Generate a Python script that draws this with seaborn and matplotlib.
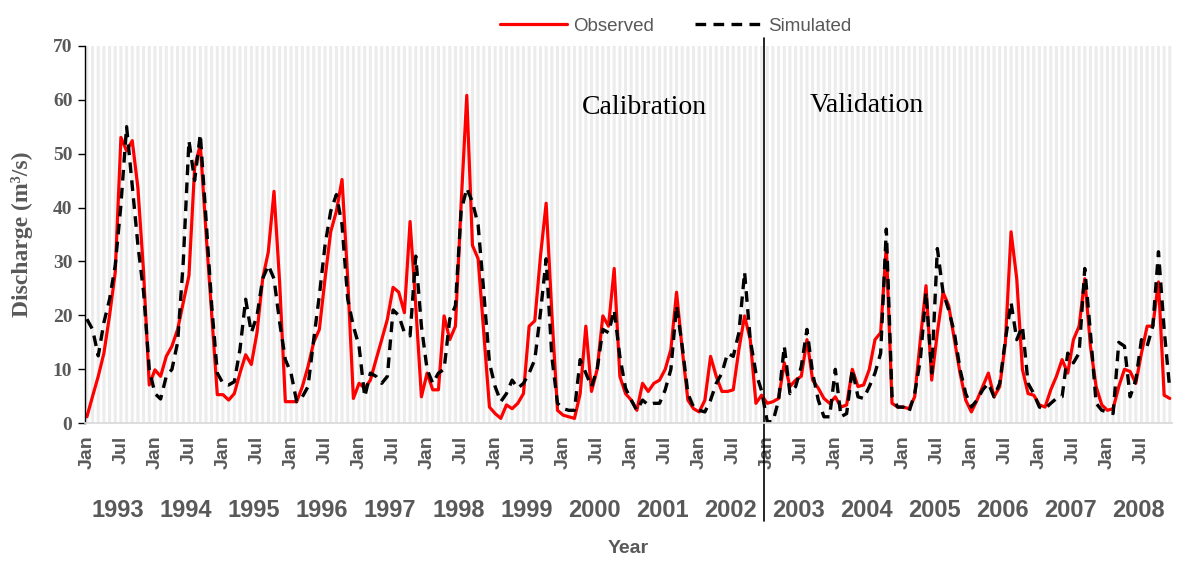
import numpy as np
import pandas as pd
import matplotlib
matplotlib.use("Agg")
import matplotlib.pyplot as plt
import matplotlib.transforms as mtransforms
import seaborn as sns

# monthly discharge, Jan 1993 - Dec 2008 (m3/s), one row per year
years = list(range(1993, 2009))
tick_months = ["Jan", "Jul"]

observed = [
    1.2, 5.0, 8.7, 13.0, 20.0, 28.0, 53.0, 50.5, 52.4, 43.6, 28.0, 7.1,
    9.9, 8.7, 12.4, 14.3, 17.4, 22.4, 27.4, 47.4, 51.7, 35.5, 20.5, 5.3,
    5.3, 4.3, 5.5, 9.3, 12.7, 10.9, 16.8, 26.8, 31.8, 43.0, 26.0, 4.0,
    4.0, 4.0, 6.8, 10.5, 15.0, 17.4, 26.8, 35.5, 39.3, 45.2, 26.8, 4.6,
    7.4, 6.5, 8.0, 11.8, 15.5, 19.3, 25.2, 24.3, 20.5, 37.4, 21.8, 4.9,
    9.3, 6.2, 6.2, 19.9, 15.5, 18.0, 40.5, 60.8, 33.0, 30.5, 16.8, 3.0,
    1.8, 0.9, 3.4, 2.7, 3.7, 5.5, 18.0, 19.0, 31.0, 40.8, 20.5, 2.4,
    1.5, 1.2, 0.9, 5.5, 18.0, 5.9, 10.0, 19.9, 18.0, 28.7, 8.7, 5.5,
    4.3, 2.4, 7.4, 5.9, 7.4, 8.0, 10.0, 13.7, 24.3, 13.7, 4.3, 2.7,
    2.1, 4.3, 12.4, 8.7, 5.9, 5.9, 6.2, 13.7, 19.9, 15.5, 3.7, 5.2,
    3.7, 4.0, 4.6, 11.2, 6.8, 8.0, 8.7, 15.5, 8.0, 6.5, 4.6, 3.7,
    4.9, 3.0, 3.4, 10.0, 6.8, 7.1, 10.0, 15.5, 16.8, 33.0, 3.7, 3.0,
    3.0, 2.7, 4.9, 15.5, 25.5, 8.0, 16.8, 24.3, 21.8, 15.5, 9.3, 4.3,
    2.1, 4.3, 6.8, 9.3, 4.9, 6.8, 15.0, 35.5, 26.8, 10.0, 5.5, 5.2,
    3.4, 3.0, 6.2, 8.7, 11.8, 9.3, 15.5, 18.0, 26.8, 14.3, 6.8, 3.4,
    2.4, 2.7, 6.8, 10.0, 9.6, 7.4, 13.0, 18.0, 18.0, 26.2, 5.2, 4.6,
]

simulated = [
    19.3, 17.4, 12.5, 18.7, 23.0, 29.3, 40.5, 55.0, 44.0, 33.0, 24.3, 10.0,
    5.5, 4.5, 8.7, 10.0, 15.0, 30.0, 52.4, 45.0, 53.6, 38.0, 22.0, 9.3,
    7.4, 7.1, 7.7, 13.7, 23.0, 16.8, 19.9, 26.8, 29.3, 26.8, 18.7, 11.8,
    9.3, 4.0, 4.9, 6.8, 15.5, 23.7, 33.0, 39.3, 42.4, 36.8, 23.0, 18.0,
    14.3, 4.9, 9.3, 8.7, 7.4, 8.7, 21.0, 20.0, 16.8, 16.2, 31.0, 18.0,
    10.0, 7.4, 9.3, 10.0, 19.3, 21.8, 39.3, 43.6, 41.0, 36.8, 24.3, 11.2,
    6.8, 4.0, 5.5, 8.0, 6.5, 7.4, 9.3, 11.8, 20.5, 30.5, 12.4, 3.7,
    2.7, 2.4, 2.4, 11.8, 9.3, 6.8, 10.0, 17.4, 16.8, 21.0, 12.4, 6.5,
    4.3, 2.4, 4.3, 3.4, 3.7, 3.7, 6.2, 10.0, 21.8, 14.3, 5.5, 3.0,
    2.4, 2.1, 4.3, 7.4, 9.3, 13.0, 12.4, 16.8, 28.0, 15.5, 9.3, 6.0,
    0.3, 0.3, 4.3, 14.3, 5.5, 6.8, 10.5, 17.4, 9.3, 4.3, 1.2, 1.2,
    10.0, 1.2, 1.8, 10.0, 4.9, 4.6, 6.8, 9.3, 13.0, 36.0, 5.0, 3.0,
    3.0, 2.1, 5.5, 11.8, 24.3, 9.3, 32.4, 24.3, 21.0, 16.8, 10.0, 5.5,
    3.0, 4.3, 6.2, 7.4, 4.9, 7.4, 15.5, 22.4, 15.5, 18.0, 7.4, 5.5,
    3.0, 2.7, 3.7, 4.6, 4.9, 13.0, 11.2, 13.0, 28.7, 16.8, 3.7, 2.4,
    2.1, 1.8, 15.0, 14.3, 4.9, 8.0, 15.5, 14.3, 18.0, 31.8, 17.4, 6.2,
]

n = len(observed)
df = pd.DataFrame({"month": np.arange(n), "Observed": observed, "Simulated": simulated})

sns.set_theme(style="white")
plt.rcParams["font.family"] = ["Liberation Sans", "DejaVu Sans"]
grey = "#595959"

fig, ax = plt.subplots(figsize=(11.96, 5.79), dpi=100)
fig.subplots_adjust(left=0.071, right=0.98, top=0.921, bottom=0.269)

# light monthly stripes (keep the ones under Jan/Jul too)
ax.xaxis.remove_overlapping_locs = False
ax.set_xticks(np.arange(n), minor=True)
ax.grid(True, which="minor", axis="x", color="#ececec", lw=2.2, snap=False)
ax.grid(False, which="major")
ax.set_axisbelow(True)

sns.lineplot(data=df, x="month", y="Observed", ax=ax, color="#ff0000", lw=2.3, label="Observed")
sns.lineplot(data=df, x="month", y="Simulated", ax=ax, color="black", lw=2.4,
             linestyle=(0, (3.2, 2.2)), label="Simulated")

ax.set_xlim(-0.35, 191.4)
ax.set_ylim(0, 70)

# Jan / Jul tick labels
ax.set_xticks(np.arange(0, n, 6))
ax.set_xticklabels([tick_months[k % 2] for k in range(len(np.arange(0, n, 6)))],
                   rotation=90, fontsize=14, fontweight="bold", color=grey)
ax.tick_params(axis="x", which="both", length=0, pad=9)

ax.set_yticks(range(0, 71, 10))
ax.tick_params(axis="y", direction="out", length=5, width=1, color="black", left=True, pad=4)
for lbl in ax.get_yticklabels():
    lbl.set_fontfamily("Liberation Serif")
    lbl.set_fontweight("bold")
    lbl.set_fontsize(14)
    lbl.set_color(grey)

for s in ["top", "right"]:
    ax.spines[s].set_visible(False)
ax.spines["left"].set_color("black")
ax.spines["left"].set_linewidth(1)
ax.spines["bottom"].set_color("#d9d9d9")

# year labels below the month ticks
trans = mtransforms.blended_transform_factory(ax.transData, ax.transAxes)
for k, yr in enumerate(years):
    ax.text(12 * k + 5.5, -0.231, str(yr), transform=trans, ha="center", va="center",
            fontsize=17, fontweight="bold", color=grey)

# calibration / validation split
ax.axvline(119.5, ymin=-0.26, ymax=1.02, color="black", lw=1.2, clip_on=False)
ax.text(98.4, 58.6, "Calibration", family="Liberation Serif", fontsize=20,
        ha="center", va="center", color="black")
ax.text(137.6, 59.0, "Validation", family="Liberation Serif", fontsize=20,
        ha="center", va="center", color="black")

ax.set_xlabel("Year", fontsize=14, fontweight="bold", color=grey)
ax.xaxis.set_label_coords(0.5, -0.332)
ax.xaxis.label.set_va("center")
ax.set_ylabel("Discharge (m³/s)", family="Liberation Serif", fontsize=17,
              fontweight="bold", color=grey)
ax.yaxis.set_label_coords(-0.058, 0.5)
ax.yaxis.label.set_va("center")

handles, labels = ax.get_legend_handles_labels()
ax.get_legend().remove()
fig.legend(handles, labels, loc="center", bbox_to_anchor=(0.565, 0.955), ncol=2,
           frameon=False, fontsize=13.5, handlelength=3.6, handletextpad=0.3,
           columnspacing=2.2, labelcolor=grey)

fig.savefig("out.png", dpi=100)
